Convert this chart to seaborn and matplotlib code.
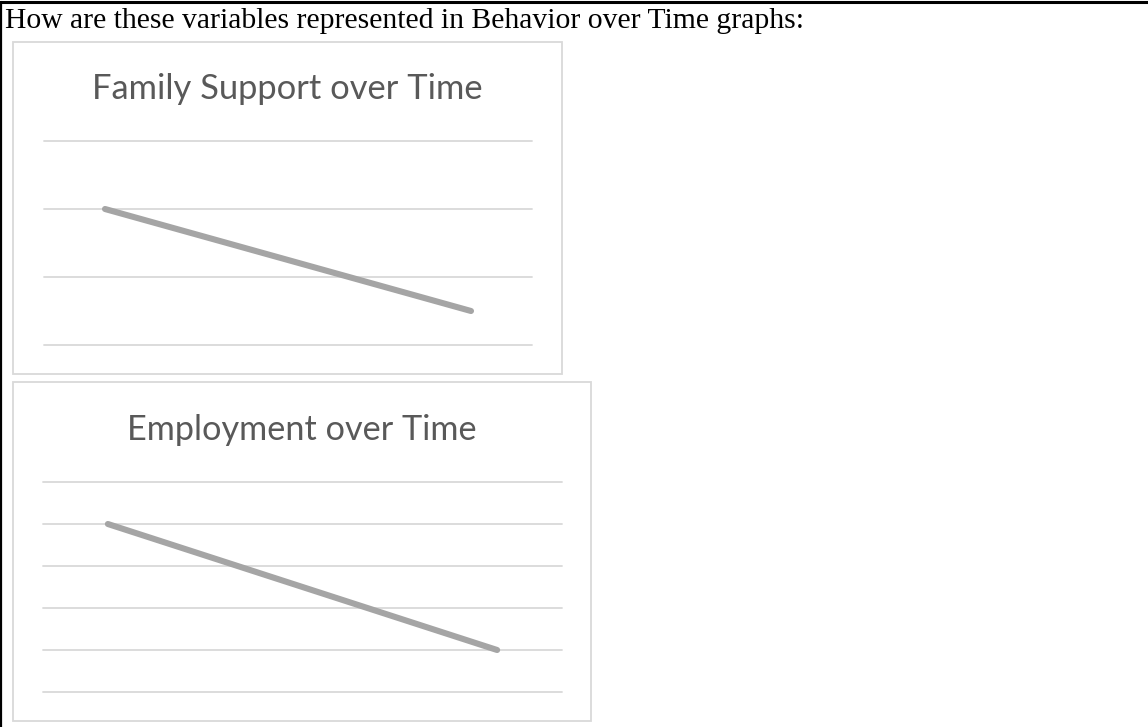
import matplotlib
matplotlib.use("Agg")
import matplotlib.pyplot as plt
import seaborn as sns
from matplotlib.patches import Rectangle
from matplotlib.lines import Line2D

# data
time_points = [1, 2, 3, 4]
family_support = [2.0, 1.5, 1.0, 0.5]
employment = [4.0, 3.0, 2.0, 1.0]
header_text = "How are these variables represented in Behavior over Time graphs:"
titles = ["Family Support over Time", "Employment over Time"]

W, H = 1148, 727
sns.set_style("white")
plt.rcParams["font.family"] = ["Lato", "DejaVu Sans"]

fig = plt.figure(figsize=(W / 100, H / 100), dpi=100)
fig.patch.set_facecolor("white")


def fx(px):
    return px / W


def fy(py):
    return 1 - py / H


# black table cell border (top and left)
fig.add_artist(Line2D([0, 1], [fy(1.5), fy(1.5)], color="black", lw=2.2))
fig.add_artist(Line2D([fx(1), fx(1)], [0, fy(1.5)], color="black", lw=1.6))

fig.text(fx(5), fy(28), header_text, family="Liberation Serif",
         fontsize=21.3, color="black", va="baseline", ha="left")

grid_col = "#D9D9D9"
line_col = "#A5A5A5"
title_col = "#595959"

# (box x0, y0, x1, y1), (plot x0, y_top, x1, y_bottom), title baseline, ymax, title size
layouts = [
    ((13, 42, 562, 374), (44, 141, 532, 345), 99, 3, 24.8),
    ((13, 382, 591, 721), (43, 482, 562, 692), 440, 5, 24.7),
]
series = [family_support, employment]

for (box, area, tbase, ymax, tsize), vals, title in zip(layouts, series, titles):
    bx0, by0, bx1, by1 = box
    fig.add_artist(Rectangle((fx(bx0), fy(by1)), fx(bx1 - bx0), (by1 - by0) / H,
                             fill=False, edgecolor=grid_col, lw=1.3))
    fig.text(fx((bx0 + bx1) / 2), fy(tbase), title, fontsize=tsize,
             color=title_col, ha="center", va="baseline")

    ax0, ayt, ax1, ayb = area
    ax = fig.add_axes([fx(ax0), fy(ayb), fx(ax1 - ax0), (ayb - ayt) / H])
    ax.set_facecolor("none")
    sns.lineplot(x=time_points, y=vals, ax=ax, color=line_col, linewidth=4.4,
                 solid_capstyle="round", zorder=3)
    ax.set_xlim(0.5, 4.5)
    ax.set_ylim(0, ymax)
    ax.set_yticks(range(0, ymax + 1))
    ax.grid(axis="y", color=grid_col, lw=1.3)
    ax.grid(axis="x", visible=False)
    for gl in ax.get_ygridlines():
        gl.set_clip_on(False)
    for s in ax.spines.values():
        s.set_visible(False)
    ax.tick_params(left=False, bottom=False, labelleft=False, labelbottom=False)
    ax.set_xlabel("")
    ax.set_ylabel("")

fig.savefig("out.png", dpi=100)
